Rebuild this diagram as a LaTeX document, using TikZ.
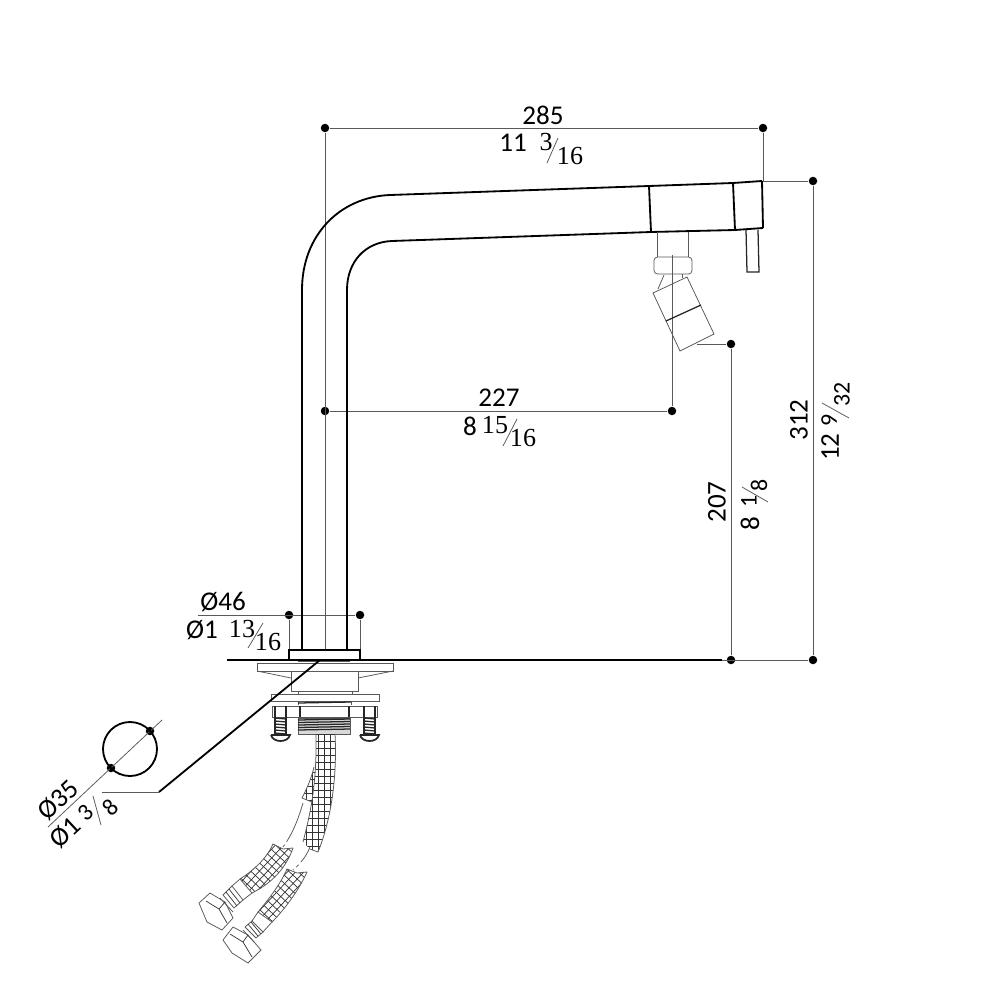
\documentclass[tikz,border=0pt]{standalone}
\usepackage{fontspec}
\setmainfont{Carlito}
\newfontfamily\fracfont{Liberation Serif}
\tikzset{
  hatchln/.style={line width=0.2pt,draw=black!80},
  thinln/.style={line width=0.22pt,draw=black!65},
  midln/.style={line width=0.36pt,draw=black!85},
  boldln/.style={line width=0.52pt,draw=black},
  dimdot/.style={circle,fill=black,inner sep=0pt,minimum size=0.085cm},
  dimtxt/.style={inner sep=0pt,font=\fontsize{7.7}{8}\selectfont,text=black},
  fractxt/.style={inner sep=0pt,font=\fontsize{7.4}{8}\fracfont,text=black},
  smalltxt/.style={inner sep=0pt,font=\fontsize{6.8}{8}\selectfont,text=black}
}
\begin{document}
\begin{tikzpicture}[x=0.01cm,y=-0.01cm]
\useasboundingbox (0,0) rectangle (1000,1000);

% Marking dimension points
\node [dimdot] (topl) at (325,128) {};
\node [dimdot] (topr) at (763,128) {};
\node [dimdot] (rtop) at (813,181) {};
\node [dimdot] (rbot) at (813,660) {};
\node [dimdot] (mtop) at (731,344) {};
\node [dimdot] (mbot) at (731,660) {};
\node [dimdot] (reachl) at (325,411) {};
\node [dimdot] (reachr) at (672,411) {};
\node [dimdot] (basel) at (289,615) {};
\node [dimdot] (baser) at (360,615) {};
\node [dimdot] (holea) at (150,731) {};
\node [dimdot] (holeb) at (111,768) {};
\coordinate (tipup) at (763,181);
\coordinate (axisbot) at (325,650);
\coordinate (aeraxis) at (672,255);
\coordinate (aerfoot) at (697,344);
\coordinate (floorl) at (722,660);
\coordinate (basefl) at (289,650);
\coordinate (basefr) at (360,650);
\coordinate (basetx) at (198,615);
\coordinate (holec) at (162,720);
\coordinate (holed) at (48,827);

% Drawing dimension lines
\draw [thinln] (topl) -- (topr);
\draw [thinln] (topl) -- (axisbot);
\draw [thinln] (topr) -- (tipup) -- (rtop);
\draw [thinln] (rtop) -- (rbot);
\draw [thinln] (floorl) -- (rbot);
\draw [thinln] (mtop) -- (mbot);
\draw [thinln] (aerfoot) -- (mtop);
\draw [thinln] (reachl) -- (reachr) -- (aeraxis);
\draw [thinln] (basetx) -- (baser) -- (basefr);
\draw [thinln] (basel) -- (basefl);
\draw [thinln] (holec) -- (holed);

% Drawing spout
\draw [boldln] (302,650) -- (302,290) .. controls (302,235) and (340,197) .. (390,195) -- (649,186) -- (733,183) -- (762,181);
\draw [boldln] (347,650) -- (347,290) .. controls (347,262) and (365,242) .. (392,241) -- (651,232) -- (735,230) -- (763,228);
\draw [boldln] (649,186) -- (651,232);
\draw [boldln] (733,183) -- (735,230);
\draw [boldln] (762,181) -- (763,228);

% Drawing lever
\draw [midln] (746,230) -- (747,272) -- (759,272) -- (758,230);

% Drawing aerator
\draw [thinln] (657,232) -- (657,257);
\draw [thinln] (688,232) -- (688,257);
\draw [thinln,rounded corners=1pt] (654,257) rectangle (692,274);
\draw [thinln] (664,275) -- (658,289);
\draw [thinln] (682,274) -- (682,278);
\draw [thinln] (653,293) -- (687,277) -- (714,334) -- (680,351) -- cycle;
\draw [midln] (666,321) -- (701,305);

% Drawing base
\draw [boldln] (289,650) rectangle (360,660);
\draw [boldln] (227,660) -- (722,660);
\draw [thinln] (298,661) -- (350,661);
\draw [thinln] (257,663) rectangle (393,671);
\draw [thinln] (257,671) -- (291,678);
\draw [thinln] (393,671) -- (358,678);
\draw [thinln] (291,671) -- (291,691) -- (358,691) -- (358,671);
\draw [thinln] (298,691) rectangle (352,694);
\draw [thinln] (271,694) rectangle (379,701);
\draw [thinln] (298,701) -- (298,705);
\draw [thinln] (351,701) -- (351,705);
\draw [midln] (298,703) -- (351,702);
\draw [thinln] (272,706) rectangle (377,717);
\draw [midln] (300,706) -- (300,717);
\draw [midln] (349,706) -- (349,717);
\draw [thinln,fill=black!15] (298,718) rectangle (350,734);
\foreach \yy in {720,722.5,...,732}
  \draw [midln] (298,\yy) -- (350,\yy-1);

% Drawing screws
\foreach \xx in {275,364} {
  \draw [midln] (\xx,706) -- (\xx,735);
  \draw [midln] (\xx+11,706) -- (\xx+11,735);
  \foreach \yy in {718,721,...,733}
    \draw [midln] (\xx,\yy) -- (\xx+11,\yy+1);
  \draw [midln,line width=0.5pt] (\xx-4,735) -- (\xx+15,735) .. controls (\xx+13,743) and (\xx-2,743) .. (\xx-4,735);
}

% Drawing hoses
\begin{scope}
  \clip (316,734) -- (335,734) .. controls (337,770) and (333,815) .. (318,852) -- (310,849) -- (303,842) .. controls (310,815) and (317,785) .. (316,734) -- cycle;
  \foreach \xx in {300,306,...,345}
    \draw [hatchln] (\xx,734) -- (\xx,860);
  \foreach \yy in {734,741,...,860}
    \draw [hatchln] (300,\yy) -- (345,\yy);
\end{scope}
\draw [thinln] (316,734) .. controls (317,785) and (310,815) .. (303,842);
\draw [thinln] (335,734) .. controls (337,770) and (333,815) .. (318,852) -- (310,849);
\begin{scope}
  \clip (314,767) .. controls (311,780) and (306,790) .. (302,798) -- (312,802) -- (316,767) -- cycle;
  \foreach \xx in {300,306,...,320}
    \draw [hatchln] (\xx,765) -- (\xx,805);
  \foreach \yy in {765,772,...,805}
    \draw [hatchln] (298,\yy) -- (320,\yy);
\end{scope}
\draw [thinln] (314,767) .. controls (311,780) and (306,790) .. (302,798) -- (312,802);
\draw [thinln,dash pattern=on 12pt off 1pt on 1pt off 1pt] (303,803) .. controls (298,820) and (292,835) .. (283,847);
\draw [thinln,dash pattern=on 5pt off 1pt on 1pt off 1pt] (310,847) .. controls (306,857) and (300,864) .. (293,870);

% Drawing left hose
\begin{scope}
  \clip (273,844) -- (283,849) -- (293,848) .. controls (286,868) and (272,883) .. (252,893) -- (240,879) .. controls (254,870) and (267,858) .. (273,844) -- cycle;
  \begin{scope}[rotate around={-43:(265,868)}]
    \foreach \xx in {215,221,...,315}
      \draw [hatchln] (\xx,810) -- (\xx,930);
    \foreach \yy in {820,826,...,920}
      \draw [hatchln] (200,\yy) -- (330,\yy);
  \end{scope}
\end{scope}
\draw [thinln] (293,848) .. controls (286,868) and (272,883) .. (252,893);
\draw [thinln] (240,879) .. controls (254,870) and (267,858) .. (273,844) -- (283,849) -- (293,848);
\draw [thinln] (240,879) -- (232,886) -- (243,900) -- (252,893) -- cycle;
\draw [thinln] (223,895) -- (232,886);
\draw [thinln] (234,908) -- (243,900);
\draw [hatchln] (226,892) -- (237,906);
\draw [hatchln] (229,889) -- (240,903);
\draw [thinln] (223,895) -- (234,908);
\draw [thinln] (220,898) -- (233,912);
\draw [thinln] (210,893) -- (225,902) -- (233,918) -- (222,930) -- (207,922) -- (199,903) -- cycle;
\draw [hatchln] (206,901) -- (219,909) -- (227,923);
\draw [hatchln] (219,909) -- (225,902);

% Drawing right hose
\begin{scope}
  \clip (287,869) -- (297,873) -- (307,872) .. controls (300,888) and (286,908) .. (272,922) -- (258,912) .. controls (268,900) and (280,885) .. (287,869) -- cycle;
  \begin{scope}[rotate around={-43:(285,895)}]
    \foreach \xx in {235,241,...,335}
      \draw [hatchln] (\xx,835) -- (\xx,955);
    \foreach \yy in {845,851,...,945}
      \draw [hatchln] (220,\yy) -- (350,\yy);
  \end{scope}
\end{scope}
\draw [thinln] (307,872) .. controls (300,888) and (286,908) .. (272,922);
\draw [thinln] (258,912) .. controls (268,900) and (280,885) .. (287,869) -- (297,873) -- (307,872);
\draw [thinln] (258,912) -- (252,921) -- (263,932) -- (272,922) -- cycle;
\draw [thinln] (245,927) -- (252,921);
\draw [thinln] (256,938) -- (263,932);
\draw [thinln] (245,927) -- (256,938);
\draw [thinln] (243,930) -- (254,942);
\draw [hatchln] (248,924) -- (258,936);
\draw [hatchln] (251,922) -- (261,934);
\draw [thinln] (233,927) -- (248,935) -- (261,950) -- (248,963) -- (232,953) -- (223,940) -- cycle;
\draw [hatchln] (230,934) -- (243,942) -- (252,957);
\draw [hatchln] (243,942) -- (248,935);

% Drawing hole symbol
\draw [boldln] (130,749) circle (27);
\draw [boldln] (159,792) -- (320,660);
\draw [thinln] (102,792) -- (159,792);

% Writing dimensions
\node [dimtxt] (wa) at (543,115) {285};
\node [dimtxt] (wb) at (513,143) {11};
\node [fractxt] (wc) at (546,142) {3};
\node [fractxt] (wd) at (570,156) {16};
\coordinate (wslasha) at (558,138);
\coordinate (wslashb) at (547,163);
\draw [thinln] (wslasha) -- (wslashb);

\node [dimtxt] (xa) at (499,398) {227};
\node [dimtxt] (xb) at (470,426) {8};
\node [fractxt] (xc) at (495,425) {15};
\node [fractxt] (xd) at (523,438) {16};
\coordinate (xslasha) at (517,419);
\coordinate (xslashb) at (503,446);
\draw [thinln] (xslasha) -- (xslashb);

\node [dimtxt] (ya) at (223,602) {Ø46};
\node [dimtxt] (yb) at (202,630) {Ø1};
\node [fractxt] (yc) at (242,629) {13};
\node [fractxt] (yd) at (268,642) {16};
\coordinate (yslasha) at (263,623);
\coordinate (yslashb) at (248,648);
\draw [thinln] (yslasha) -- (yslashb);

\node [dimtxt,rotate=90] (za) at (717,502) {207};
\node [dimtxt,rotate=90] (zb) at (750,524) {8};
\node [smalltxt,rotate=90] (zc) at (749,501) {1};
\node [smalltxt,rotate=90] (zd) at (759,485) {8};
\coordinate (zslasha) at (742,487);
\coordinate (zslashb) at (768,502);
\draw [thinln] (zslasha) -- (zslashb);

\node [dimtxt,rotate=90] (va) at (799,420) {312};
\node [dimtxt,rotate=90] (vb) at (830,447) {12};
\node [smalltxt,rotate=90] (vc) at (829,420) {9};
\node [smalltxt,rotate=90] (vd) at (842,394) {32};
\coordinate (vslasha) at (822,403);
\coordinate (vslashb) at (849,418);
\draw [thinln] (vslasha) -- (vslashb);

\node [dimtxt,rotate=43] (ua) at (58,800) {Ø35};
\node [dimtxt,rotate=43] (ub) at (65,833) {Ø1};
\node [smalltxt,rotate=43] (uc) at (86,813) {3};
\node [smalltxt,rotate=43] (ud) at (110,807) {8};
\coordinate (uslasha) at (93,796);
\coordinate (uslashb) at (101,825);
\draw [thinln] (uslasha) -- (uslashb);
\end{tikzpicture}
\end{document}
